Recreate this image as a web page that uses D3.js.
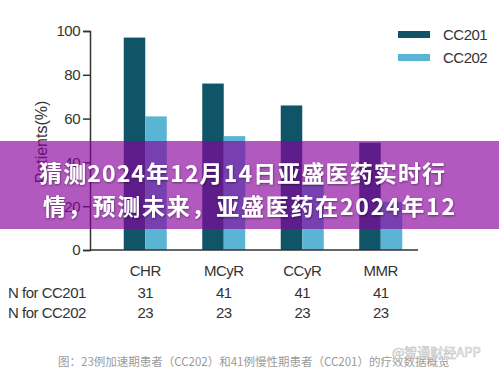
<!DOCTYPE html>
<html>
<head>
<meta charset="utf-8">
<script src="https://cdn.jsdelivr.net/npm/d3@7"></script>
<style>
  body { margin: 0; background: #fff; }
  svg { display: block; }
  .tick text { font-family: "Liberation Sans", Arial, sans-serif; }
</style>
</head>
<body>
<script>
//chart data
var categories = ["CHR", "MCyR", "CCyR", "MMR"];
var seriesNames = ["CC201", "CC202"];
var cc201Values = [97, 76, 66, 49];
var cc202Values = [61, 52, 31, 22];
var nCC201 = ["31", "41", "41", "41"];
var nCC202 = ["23", "23", "23", "23"];
var yTicks = [0, 20, 40, 60, 80, 100];
var titleLines = ["猜测2024年12月14日亚盛医药实时行", "情，预测未来，亚盛医药在2024年12"];
var caption = "图：23例加速期患者（CC202）和41例慢性期患者（CC201）的疗效数据概览";

(function(){
    var width = 499, height = 371;
    var colors = ["#0f5567", "#5ab4d3"];
    var font = "'Liberation Sans', Arial, sans-serif";

    var svg = d3.select("body").append("svg")
        .attr("width", width)
        .attr("height", height);

    //scales
    var yScale = d3.scaleLinear().domain([0, 100]).range([250, 31]);
    var xScale = d3.scaleBand().domain(categories).range([106, 420]).padding(0);
    var xSub = d3.scaleBand().domain(seriesNames).range([-21.5, 21.5]).padding(0);

    //y axis
    var yAxis = d3.axisLeft(yScale).tickValues(yTicks).tickSize(7).tickPadding(3);
    var yG = svg.append("g").attr("transform", "translate(90,0)").call(yAxis);
    yG.select(".domain").attr("stroke", "#333").attr("stroke-width", 1.5);
    yG.selectAll(".tick line").attr("stroke", "#333").attr("stroke-width", 1.5);
    yG.selectAll(".tick text").attr("fill", "#333").style("font-size", "15px")
        .attr("letter-spacing", "-0.5");

    //y label
    svg.append("text")
        .attr("transform", "translate(47,142) rotate(-90)")
        .attr("text-anchor", "middle")
        .attr("fill", "#333")
        .style("font-family", font)
        .style("font-size", "16px")
        .text("Patients(%)");

    //bars
    var rows = categories.map(function(c, i){
        return {cat: c, values: [cc201Values[i], cc202Values[i]]};
    });
    var groups = svg.selectAll(".grp").data(rows).enter().append("g")
        .attr("class", "grp")
        .attr("transform", function(d){ return "translate(" + (xScale(d.cat) + xScale.bandwidth() / 2) + ",0)"; });
    groups.selectAll("rect").data(function(d){
            return d.values.map(function(v, j){ return {s: seriesNames[j], v: v, j: j}; });
        })
        .enter().append("rect")
        .attr("x", function(d){ return xSub(d.s); })
        .attr("width", xSub.bandwidth())
        .attr("y", function(d){ return yScale(d.v); })
        .attr("height", function(d){ return yScale(0) - yScale(d.v); })
        .attr("fill", function(d){ return colors[d.j]; });

    //x baseline
    svg.append("line")
        .attr("x1", 90).attr("x2", 418)
        .attr("y1", yScale(0)).attr("y2", yScale(0))
        .attr("stroke", "#333").attr("stroke-width", 1.5);

    //category labels and N rows
    var centers = function(c){ return xScale(c) + xScale.bandwidth() / 2; };
    [[categories, 276], [nCC201, 298], [nCC202, 318]].forEach(function(r){
        svg.selectAll(null).data(r[0]).enter().append("text")
            .attr("x", function(d, i){ return centers(categories[i]); })
            .attr("y", r[1])
            .attr("text-anchor", "middle")
            .attr("fill", "#333")
            .attr("letter-spacing", "-0.5")
            .style("font-family", font)
            .style("font-size", "15px")
            .text(function(d){ return d; });
    });
    svg.append("text").attr("x", 8).attr("y", 298).attr("fill", "#333")
        .attr("letter-spacing", "-0.5")
        .style("font-family", font).style("font-size", "15px").text("N for CC201");
    svg.append("text").attr("x", 8).attr("y", 318).attr("fill", "#333")
        .attr("letter-spacing", "-0.5")
        .style("font-family", font).style("font-size", "15px").text("N for CC202");

    //legend
    var legend = svg.selectAll(".legend").data(seriesNames).enter().append("g")
        .attr("class", "legend")
        .attr("transform", function(d, i){ return "translate(398," + (31 + i * 23) + ")"; });
    legend.append("rect").attr("width", 32).attr("height", 7)
        .attr("fill", function(d, i){ return colors[i]; });
    legend.append("text").attr("x", 45).attr("y", 9)
        .attr("fill", "#333")
        .attr("letter-spacing", "-0.5")
        .style("font-family", font).style("font-size", "15px")
        .text(function(d){ return d; });

    //caption
    svg.append("text").attr("x", 58).attr("y", 366)
        .attr("fill", "#9a9a9a")
        .style("font-family", "'Noto Sans CJK SC', sans-serif")
        .style("font-size", "11.5px")
        .text(caption);
    svg.append("text").attr("x", 392).attr("y", 357)
        .attr("fill", "#f2f2f2").attr("stroke", "#c8c8c8").attr("stroke-width", 0.6)
        .style("font-family", "'Noto Sans CJK SC', sans-serif")
        .style("font-size", "13px")
        .text("@智通财经APP");

    //title banner
    var defs = svg.append("defs");
    var f = defs.append("filter").attr("id", "shadow");
    f.append("feDropShadow").attr("dx", 0.5).attr("dy", 1).attr("stdDeviation", 0.8)
        .attr("flood-color", "#000").attr("flood-opacity", 0.45);
    svg.append("rect").attr("x", 0).attr("y", 141).attr("width", width).attr("height", 88)
        .attr("fill", "rgb(137,0,158)").attr("fill-opacity", 0.65);
    svg.selectAll(".title").data(titleLines).enter().append("text")
        .attr("class", "title")
        .attr("x", function(d, i){ return i === 0 ? 39 : 43; })
        .attr("y", function(d, i){ return 182 + i * 33; })
        .attr("textLength", function(d, i){ return i === 0 ? 406 : 412; })
        .attr("lengthAdjust", "spacing")
        .attr("fill", "#fff")
        .attr("filter", "url(#shadow)")
        .style("font-family", "'Noto Sans CJK SC', sans-serif")
        .style("font-weight", "bold")
        .style("font-size", "23px")
        .text(function(d){ return d; });
})();
</script>
</body>
</html>
